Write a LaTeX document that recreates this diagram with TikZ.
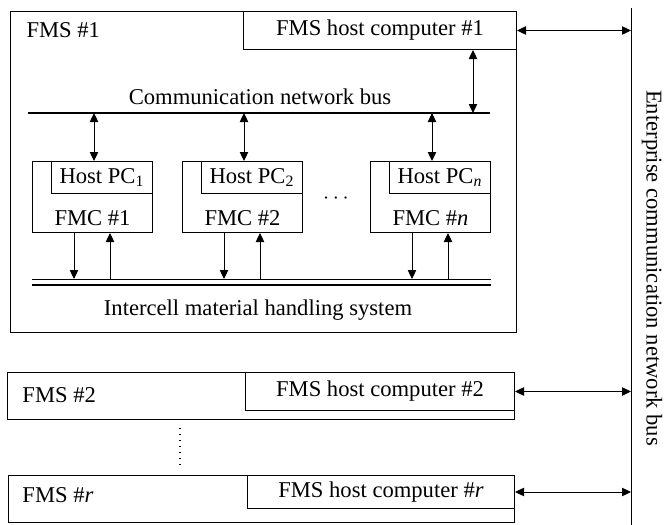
\documentclass[tikz,border=0pt]{standalone}
\usepackage{fontspec}
\setmainfont{Liberation Serif}
\usetikzlibrary{arrows.meta, positioning, calc}
\tikzset{
  fmsbox/.style={rectangle, draw=black, inner sep=0pt, anchor=north west},
  hostbox/.style={rectangle, draw=black, inner sep=0pt, anchor=north east},
  link/.style={{Triangle[length=4.5pt,width=4.2pt]}-{Triangle[length=4.5pt,width=4.2pt]}},
  arrow/.style={-{Triangle[length=4.5pt,width=4.2pt]}},
  bus/.style={line width=1.3pt}
}

\begin{document}
\begin{tikzpicture}[x=0.5pt, y=-0.5pt, line width=0.5pt,
  every node/.style={font=\fontsize{11.3}{13}\selectfont}]
  \useasboundingbox (0,0) rectangle (671,525);

  % FMS #1
  \node (fms1) [fmsbox, minimum width=253pt, minimum height=160.5pt] at (10,11) {};
  \node (host1) [hostbox, minimum width=136.5pt, minimum height=19pt] at (fms1.north east) {FMS host computer \#1};
  \node (fms1lbl) [anchor=west, inner sep=0pt] at (26,30) {FMS \#1};

  % communication network bus
  \coordinate (busL) at (28,113);
  \coordinate (busR) at (490,113);
  \draw [bus] (busL) -- (busR);
  \node (buslbl) at (260,97) {Communication network bus};
  \draw [link] ([xshift=-22pt]host1.south east) coordinate (h1) -- (h1 |- busL);

  % intercell material handling system
  \coordinate (mhsL) at (32,279);
  \coordinate (mhsR) at (491,279);
  \draw (mhsL) -- (mhsR);
  \draw [bus] ([yshift=-3pt]mhsL) -- ([yshift=-3pt]mhsR);
  \node (mhslbl) at (258,310) {Intercell material handling system};

  % cells
  \foreach \n/\x/\lab in {1/32/1, 2/182/2, 3/370/{\textit{n}}}{
    \node (fmc\n) [fmsbox, minimum width=60pt, minimum height=35.5pt] at (\x,161) {};
    \node (pc\n) [hostbox, minimum width=50.5pt, minimum height=16pt] at (fmc\n.north east) {Host PC\textsubscript{\lab}};
    \node (fmclbl\n) [above=3.5pt of fmc\n.south, inner sep=0pt] {FMC \#\lab};
    \draw [link] ([xshift=31pt]fmc\n.north west) coordinate (u\n) -- (u\n |- busL);
    \draw [arrow] ([xshift=21pt]fmc\n.south west) coordinate (d\n) -- (d\n |- mhsL);
    \coordinate (e\n) at ([xshift=39pt]fmc\n.south west);
    \draw [arrow] (e\n |- mhsL) -- (e\n);
  }
  \node (hdots) at (336,199) {$\cdots$};

  % FMS #2
  \node (fms2) [fmsbox, minimum width=253.5pt, minimum height=23.5pt] at (7,372) {};
  \node (host2) [hostbox, minimum width=134.5pt, minimum height=19pt] at (fms2.north east) {FMS host computer \#2};
  \node (fms2lbl) [anchor=west, inner sep=0pt] at (22,395) {FMS \#2};

  \coordinate (vd1) at (180,428);
  \coordinate (vd2) at (180,465);
  \draw [line width=0.7pt, dash pattern=on 0.7pt off 2.3pt] (vd1) -- (vd2);

  % FMS #r
  \node (fmsr) [fmsbox, minimum width=253pt, minimum height=23.5pt] at (8,475) {};
  \node (hostr) [hostbox, minimum width=133.5pt, minimum height=16.5pt] at (fmsr.north east) {FMS host computer \#\textit{r}};
  \node (fmsrlbl) [anchor=west, inner sep=0pt] at (22,495) {FMS \#\textit{r}};

  % enterprise bus
  \coordinate (ebT) at (631,8);
  \coordinate (ebB) at (631,525);
  \draw (ebT) -- (ebB);
  \node (eblbl) [rotate=-90] at (652,268) {Enterprise communication network bus};
  \draw [link] (host1.east) -- (host1.east -| ebT);
  \draw [link] (host2.east) -- (host2.east -| ebT);
  \draw [link] (hostr.east) -- (hostr.east -| ebT);
\end{tikzpicture}
\end{document}
